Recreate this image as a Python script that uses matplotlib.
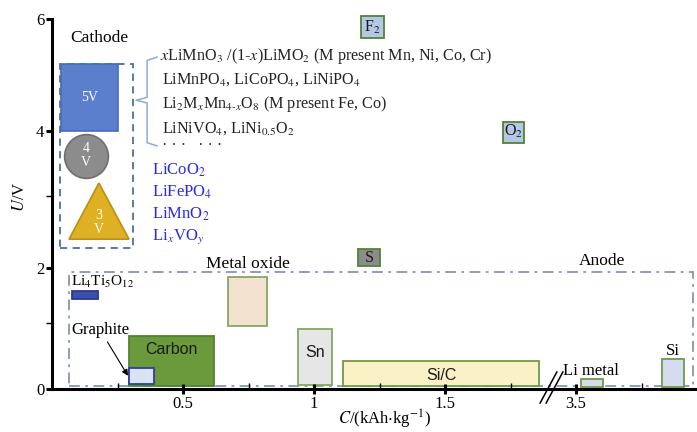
import numpy as np
import matplotlib.pyplot as plt
from matplotlib.patches import Rectangle, Polygon
from matplotlib.transforms import blended_transform_factory

plt.rcParams['font.family'] = ['Liberation Serif', 'DejaVu Serif']
plt.rcParams['mathtext.fontset'] = 'stix'

# anode materials: capacity range (kAh/kg) and voltage range (V)
anode_names = ['Li4Ti5O12', 'Graphite', 'Carbon', 'Metal oxide', 'Sn', 'Si/C', 'Li metal', 'Si']
anode_c_lo = [0.076, 0.294, 0.294, 0.672, 0.939, 1.111, 3.519, 3.828]
anode_c_hi = [0.176, 0.389, 0.618, 0.821, 1.069, 1.859, 3.603, 3.912]
anode_u_lo = [1.44, 0.076, 0.045, 0.955, 0.06, 0.045, 0.03, 0.03]
anode_u_hi = [1.58, 0.318, 0.80, 1.84, 0.909, 0.424, 0.15, 0.45]

# gas / sulphur reference boxes
ref_names = ['F$_2$', 'O$_2$', 'S']
ref_c_lo = [1.179, 1.721, 1.168]
ref_c_hi = [1.267, 1.802, 1.252]
ref_u_lo = [5.66, 3.82, 2.03]
ref_u_hi = [6.05, 4.16, 2.26]

# cathode voltage classes
v5_c = [0.034, 0.252]
v5_u = [4.0, 5.2]
v4_c, v4_u = 0.129, 3.62
v3_c = [0.065, 0.179, 0.294]
v3_u = [2.40, 3.2, 2.40]

high_v_cathodes = [r'$x$LiMnO$_3$ /(1-$x$)LiMO$_2$ (M present Mn, Ni, Co, Cr)',
                   r'LiMnPO$_4$, LiCoPO$_4$, LiNiPO$_4$',
                   r'Li$_2$M$_x$Mn$_{4\text{-}x}$O$_8$ (M present Fe, Co)',
                   r'LiNiVO$_4$, LiNi$_{0.5}$O$_2$',
                   '· · ·   · · ·']
high_v_u = [5.34, 4.91, 4.48, 4.05, 3.77]
low_v_cathodes = [r'LiCoO$_2$', r'LiFePO$_4$', r'LiMnO$_2$', r'Li$_x$VO$_y$']
low_v_u = [3.40, 3.05, 2.74, 2.43]

xtick_pos = [0.5, 1.0, 1.5, 2.0, 2.5]
xtick_labels = ['0.5', '1', '1.5', '3.5', '4']

# capacity axis jumps from 2.0 straight to 3.5
def brk(c):
    c = np.asarray(c, dtype=float)
    return np.where(c > 2.0, c - 1.5, c)

# y axis is stretched unevenly between ticks
U_KNOTS = [0, 1, 2, 3, 4, 6, 7]
U_SPAN = [0, 66, 121, 193, 258, 370, 426]
def fwd(u):
    return np.interp(u, U_KNOTS, U_SPAN)
def inv(h):
    return np.interp(h, U_SPAN, U_KNOTS)

fig = plt.figure(figsize=(6.97, 4.32), dpi=100)
ax = fig.add_axes([52/697, 43/432, 655/697, 370/432])
ax.set_yscale('function', functions=(fwd, inv))
ax.set_xlim(0, 2.5)
ax.set_ylim(0, 6)

for s in ['top', 'right']:
    ax.spines[s].set_visible(False)
for s in ['left', 'bottom']:
    ax.spines[s].set_linewidth(2.2)

ax.set_xticks(xtick_pos)
ax.set_xticklabels(xtick_labels)
ax.set_xticks([0.25, 0.75, 1.25, 1.75, 2.25], minor=True)
ax.set_yticks([0, 2, 4, 6])
ax.set_yticks([1, 3], minor=True)
ax.tick_params(axis='x', which='major', direction='inout', length=7.5, width=2.2, labelsize=12, pad=1)
ax.tick_params(axis='x', which='minor', direction='in', length=4.5, width=1)
ax.tick_params(axis='y', which='major', direction='out', length=4.5, width=2.2, labelsize=12, pad=1)
ax.tick_params(axis='y', which='minor', direction='out', length=4, width=1)

ax.set_xlabel(r'$C$/(kAh$\cdot$kg$^{-1}$)', fontsize=12)
ax.xaxis.set_label_coords((385-52)/655, -0.052)
ax.set_ylabel(r'$U$/V', fontsize=12)
ax.yaxis.set_label_coords(-0.037, 0.52)

# ---- cathode side ----
ax.add_patch(Rectangle((0.031, 2.28), 0.278, 2.92, fill=False, ls=(0, (4, 3)),
                       ec='#4a6fa0', lw=1.3))
ax.text(0.18, 5.66, 'Cathode', fontsize=12.5, ha='center', va='center')

ax.add_patch(Rectangle((v5_c[0], v5_u[0]), v5_c[1]-v5_c[0], v5_u[1]-v5_u[0],
                       fc='#5b7fcc', ec='#4a6bb5', lw=1.2))
ax.text(np.mean(v5_c), np.mean(v5_u), '5V', color='white', fontsize=10,
        ha='center', va='center')

ax.plot([v4_c], [v4_u], marker='o', ms=31.5, mfc='#8c8c8c', mec='#6e6e6e', mew=1.2)
ax.text(v4_c, v4_u, '4\nV', color='white', fontsize=10, ha='center', va='center',
        linespacing=1.1)

ax.add_patch(Polygon(np.column_stack([v3_c, v3_u]), closed=True,
                     fc='#e0b023', ec='#b8901a', lw=1.2))
ax.text(v3_c[1], 2.63, '3\nV', color='white', fontsize=10, ha='center', va='center',
        linespacing=1.1)

# bracket joining the 5 V box to its materials
bx = [0.401, 0.363, 0.363, 0.321, 0.363, 0.363, 0.401]
by = [5.32, 5.26, 4.60, 4.55, 4.50, 3.82, 3.77]
ax.plot(bx, by, color='#8eaadb', lw=1.1)

for txt, u in zip(high_v_cathodes, high_v_u):
    x0 = 0.412 if txt.startswith('$x$') else 0.42
    ax.text(x0, u, txt, fontsize=11.6, ha='left', va='center', color='#222222')
for txt, u in zip(low_v_cathodes, low_v_u):
    ax.text(0.382, u, txt, fontsize=12, ha='left', va='center', color='#2a2ae8')

# ---- reference boxes ----
ref_faces = ['#b4c7e7', '#b4c7e7', '#8c8c8c']
for name, c0, c1, u0, u1, fc in zip(ref_names, ref_c_lo, ref_c_hi, ref_u_lo, ref_u_hi, ref_faces):
    ax.add_patch(Rectangle((c0, u0), c1-c0, u1-u0, fc=fc, ec='#548235', lw=1.3,
                           clip_on=False))
    ax.text((c0+c1)/2, (u0+u1)/2, name, fontsize=11.5, ha='center', va='center',
            color='#1a1a1a')

# ---- anode side ----
ax.add_patch(Rectangle((0.065, 0.045), 2.382, 1.885, fill=False, ls=(0, (6, 3, 1.5, 3)),
                       ec='#8497b0', lw=1.3))
ax.text(0.748, 2.06, 'Metal oxide', fontsize=12.5, ha='center', va='center')
ax.text(2.10, 2.10, 'Anode', fontsize=12.5, ha='center', va='center')

a_face = ['#3b4fae', '#dae3f3', '#6a9a3c', '#f2e2cf', '#e7e6e6', '#fbf1c6', '#d6dcea', '#d6dcf0']
a_edge = ['#2a3a8a', '#2f3f9f', '#538135', '#84a860', '#84a860', '#6f9a48', '#6f9a48', '#6f9a48']
lo = brk(anode_c_lo)
hi = brk(anode_c_hi)
order = [2, 1, 0, 3, 4, 5, 6, 7]
for i in order:
    ax.add_patch(Rectangle((lo[i], anode_u_lo[i]), hi[i]-lo[i],
                           anode_u_hi[i]-anode_u_lo[i], fc=a_face[i], ec=a_edge[i], lw=1.3))

mid = (lo + hi) / 2
ax.text(0.073, 1.745, r'Li$_4$Ti$_5$O$_{12}$', fontsize=11, ha='left', va='center')
ax.annotate('Graphite', xy=(0.29, 0.20), xytext=(0.073, 0.894), fontsize=12,
            ha='left', va='center',
            arrowprops=dict(arrowstyle='-|>', color='black', lw=0.8,
                            mutation_scale=9, shrinkA=1, shrinkB=0))
ax.text(mid[2], 0.606, 'Carbon', family='Liberation Sans', fontsize=11.5,
        ha='center', va='center', color='#1a1a1a')
ax.text(mid[4], 0.56, 'Sn', family='Liberation Sans', fontsize=11.5,
        ha='center', va='center', color='#1a1a1a')
ax.text(mid[5], 0.197, 'Si/C', family='Liberation Sans', fontsize=11.5,
        ha='center', va='center', color='#1a1a1a')
ax.text(mid[6] - 0.004, 0.27, 'Li metal', fontsize=12, ha='center', va='center')
ax.text(mid[7], 0.576, 'Si', fontsize=12, ha='center', va='center')

# axis break marks
tr = blended_transform_factory(ax.transData, ax.transAxes)
for dx in [0.0, 0.023]:
    ax.plot([1.863 + dx, 1.927 + dx], [-0.038, 0.046], color='black', lw=1.1,
            transform=tr, clip_on=False)

fig.savefig('out.png', dpi=100)
